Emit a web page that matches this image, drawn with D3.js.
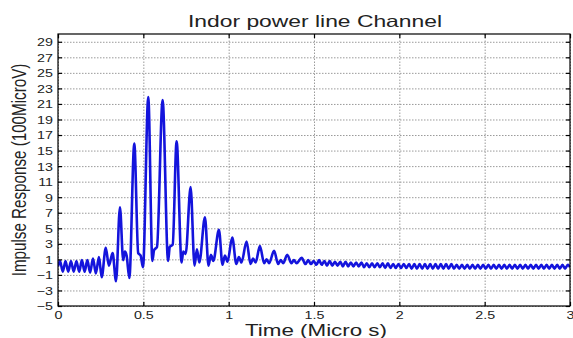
<!DOCTYPE html>
<html>
<head>
<meta charset="utf-8">
<script src="https://cdn.jsdelivr.net/npm/d3@7"></script>
<style>
  html, body { margin: 0; padding: 0; background: #fff; }
  svg { display: block; font-family: "Liberation Sans", Arial, Helvetica, sans-serif; }
</style>
</head>
<body>
<div id="chart"></div>
<script>
// 차트 데이터
const titleText = "Indor power line Channel";
const xLabelText = "Time (Micro s)";
const yLabelText = "Impulse Response (100MicroV)";

const xTicks = [0, 0.5, 1, 1.5, 2, 2.5, 3];
const xTickLabels = ["0", "0.5", "1", "1.5", "2", "2.5", "3"];
const yTicks = [-5, -3, -1, 1, 3, 5, 7, 9, 11, 13, 15, 17, 19, 21, 23, 25, 27, 29];

// [time (µs), response (100 µV)]
const earlySamples = [
  [0.000, 0.1], [0.012, 0.8], [0.028, -0.6], [0.044, 0.8], [0.060, -0.6],
  [0.076, 0.8], [0.092, -0.6], [0.108, 0.8], [0.124, -0.6], [0.140, 0.9],
  [0.156, -0.6], [0.172, 0.9], [0.188, -0.7], [0.205, 1.1], [0.222, -0.8],
  [0.240, 1.3], [0.256, -1.3], [0.280, 2.5], [0.298, 0.2], [0.320, 1.8],
  [0.340, -1.8]
];

const peakSamples = [
  [0.363, 7.7], [0.382, 0.9], [0.392, 2.0], [0.402, 1.5], [0.418, -1.4],
  [0.447, 15.9], [0.470, 1.8], [0.484, 1.5], [0.498, 0.0],
  [0.529, 21.9], [0.553, 0.8], [0.563, 2.2], [0.580, 2.6],
  [0.613, 21.5], [0.645, 0.8], [0.655, 2.6], [0.672, 2.9],
  [0.695, 16.2], [0.724, 0.6], [0.734, 2.0], [0.748, 1.7],
  [0.777, 10.3], [0.800, 0.2], [0.814, 2.3], [0.828, 0.6],
  [0.861, 6.4], [0.882, 0.2], [0.896, 1.6], [0.910, 0.8],
  [0.943, 4.8], [0.964, 0.3], [0.978, 1.5], [0.993, 0.7],
  [1.021, 3.8], [1.045, 0.4], [1.060, 1.3], [1.075, 0.6],
  [1.105, 3.3], [1.128, 0.4], [1.143, 1.1], [1.158, 0.6],
  [1.183, 2.7], [1.208, 0.5], [1.222, 1.0], [1.237, 0.5],
  [1.266, 2.1], [1.290, 0.4], [1.305, 0.9], [1.320, 0.5],
  [1.343, 1.6], [1.368, 0.5], [1.382, 0.9], [1.398, 0.5],
  [1.428, 1.2], [1.450, 0.4], [1.466, 0.9], [1.482, 0.4]
];

const tailSamples = [
  [1.498, 0.8], [1.514, 0.3], [1.530, 0.9], [1.545, 0.3], [1.561, 0.8],
  [1.576, 0.2], [1.592, 0.8], [1.607, 0.2], [1.623, 0.7], [1.638, 0.2],
  [1.654, 0.7], [1.669, 0.1], [1.685, 0.7], [1.700, 0.1], [1.716, 0.6],
  [1.731, 0.1], [1.747, 0.6], [1.762, 0.1], [1.778, 0.6], [1.793, 0.0],
  [1.809, 0.5], [1.824, 0.0], [1.840, 0.5], [1.855, 0.0], [1.871, 0.5],
  [1.886, 0.0], [1.902, 0.5], [1.917, -0.1], [1.933, 0.5], [1.948, -0.1],
  [1.964, 0.4], [1.979, -0.1], [1.995, 0.4], [2.010, -0.1], [2.026, 0.4],
  [2.041, -0.1], [2.057, 0.4], [2.072, -0.2], [2.088, 0.4], [2.103, -0.2],
  [2.119, 0.4], [2.134, -0.2], [2.150, 0.4], [2.165, -0.2], [2.181, 0.4],
  [2.196, -0.2], [2.212, 0.4], [2.227, -0.2], [2.243, 0.4], [2.258, -0.2],
  [2.274, 0.4], [2.289, -0.2], [2.305, 0.4], [2.320, -0.2], [2.336, 0.3],
  [2.351, -0.2], [2.367, 0.3], [2.382, -0.2], [2.398, 0.3], [2.413, -0.2],
  [2.429, 0.3], [2.444, -0.2], [2.460, 0.3], [2.475, -0.2], [2.491, 0.3],
  [2.506, -0.2], [2.522, 0.3], [2.537, -0.2], [2.553, 0.3], [2.568, -0.2],
  [2.584, 0.3], [2.599, -0.2], [2.615, 0.3], [2.630, -0.2], [2.646, 0.3],
  [2.661, -0.2], [2.677, 0.3], [2.692, -0.2], [2.708, 0.3], [2.723, -0.2],
  [2.739, 0.3], [2.754, -0.2], [2.770, 0.3], [2.785, -0.2], [2.801, 0.3],
  [2.816, -0.2], [2.832, 0.3], [2.847, -0.2], [2.863, 0.3], [2.878, -0.2],
  [2.894, 0.3], [2.909, -0.2], [2.925, 0.3], [2.940, -0.2], [2.956, 0.3],
  [2.971, -0.2], [2.987, 0.3], [3.000, 0.0]
];

// ── 레이아웃 ──
const width = 573;
const height = 338;
const plot = { left: 58, right: 570, top: 34, bottom: 306 };
const stretch = 1.3; // 원본 이미지가 가로로 늘어나 있음

const x = d3.scaleLinear().domain([0, 3]).range([plot.left, plot.right]);
const y = d3.scaleLinear().domain([-5, 30]).range([plot.bottom, plot.top]);

const svg = d3.select("#chart").append("svg")
  .attr("width", width)
  .attr("height", height);

svg.append("defs").append("clipPath").attr("id", "plot-clip")
  .append("rect")
  .attr("x", plot.left).attr("y", plot.top)
  .attr("width", plot.right - plot.left).attr("height", plot.bottom - plot.top);

// 그리드
const gridX = svg.append("g")
  .attr("transform", `translate(0, ${plot.bottom})`)
  .call(d3.axisBottom(x).tickValues(xTicks).tickSize(-(plot.bottom - plot.top)).tickFormat(""));
const gridY = svg.append("g")
  .attr("transform", `translate(${plot.left}, 0)`)
  .call(d3.axisLeft(y).tickValues(yTicks).tickSize(-(plot.right - plot.left)).tickFormat(""));
[gridX, gridY].forEach((g) => {
  g.select(".domain").remove();
  g.selectAll("line")
    .attr("stroke", "#9a9a9a")
    .attr("stroke-width", 1)
    .attr("stroke-dasharray", "1.5,1.5");
});

// 곡선
const allSamples = earlySamples.concat(peakSamples, tailSamples);
const line = d3.line()
  .x((d) => x(d[0]))
  .y((d) => y(d[1]))
  .curve(d3.curveMonotoneX);

svg.append("path")
  .datum(allSamples)
  .attr("clip-path", "url(#plot-clip)")
  .attr("fill", "none")
  .attr("stroke", "#1414dc")
  .attr("stroke-width", 2.6)
  .attr("stroke-linejoin", "round")
  .attr("d", line);

// 축 (눈금은 안쪽으로)
const tickLen = 4;
const axisBottom = svg.append("g")
  .attr("transform", `translate(0, ${plot.bottom})`)
  .call(d3.axisBottom(x).tickValues(xTicks).tickSize(-tickLen)
    .tickFormat((d, i) => xTickLabels[i]));
const axisTop = svg.append("g")
  .attr("transform", `translate(0, ${plot.top})`)
  .call(d3.axisTop(x).tickValues(xTicks).tickSize(-tickLen).tickFormat(""));
const axisLeft = svg.append("g")
  .attr("transform", `translate(${plot.left}, 0)`)
  .call(d3.axisLeft(y).tickValues(yTicks).tickSize(-tickLen));
const axisRight = svg.append("g")
  .attr("transform", `translate(${plot.right}, 0)`)
  .call(d3.axisRight(y).tickValues(yTicks).tickSize(-tickLen).tickFormat(""));

[axisBottom, axisTop, axisLeft, axisRight].forEach((g) => {
  g.select(".domain").remove();
  g.selectAll("line").attr("stroke", "#000").attr("stroke-width", 1.2);
});

axisBottom.selectAll("text")
  .attr("y", 13)
  .attr("dy", 0)
  .attr("transform", `scale(${stretch},1)`)
  .attr("font-size", 11)
  .attr("fill", "#222");

axisLeft.selectAll("text")
  .attr("x", -5 / stretch)
  .attr("dy", "0.36em")
  .attr("transform", `scale(${stretch},1)`)
  .attr("font-size", 11)
  .attr("fill", "#222");

// 테두리
svg.append("rect")
  .attr("x", plot.left).attr("y", plot.top)
  .attr("width", plot.right - plot.left).attr("height", plot.bottom - plot.top)
  .attr("fill", "none")
  .attr("stroke", "#000")
  .attr("stroke-width", 1.2);

// 제목과 축 이름
svg.append("text")
  .attr("x", 315).attr("y", 27)
  .attr("text-anchor", "middle")
  .attr("font-size", 16.5)
  .attr("fill", "#222")
  .attr("textLength", 254)
  .attr("lengthAdjust", "spacingAndGlyphs")
  .text(titleText);

svg.append("text")
  .attr("x", 316).attr("y", 336)
  .attr("text-anchor", "middle")
  .attr("font-size", 16)
  .attr("fill", "#222")
  .attr("textLength", 142)
  .attr("lengthAdjust", "spacingAndGlyphs")
  .text(xLabelText);

svg.append("text")
  .attr("transform", `translate(26, 170) scale(${stretch},1) rotate(-90)`)
  .attr("text-anchor", "middle")
  .attr("font-size", 15.2)
  .attr("fill", "#222")
  .text(yLabelText);
</script>
</body>
</html>
